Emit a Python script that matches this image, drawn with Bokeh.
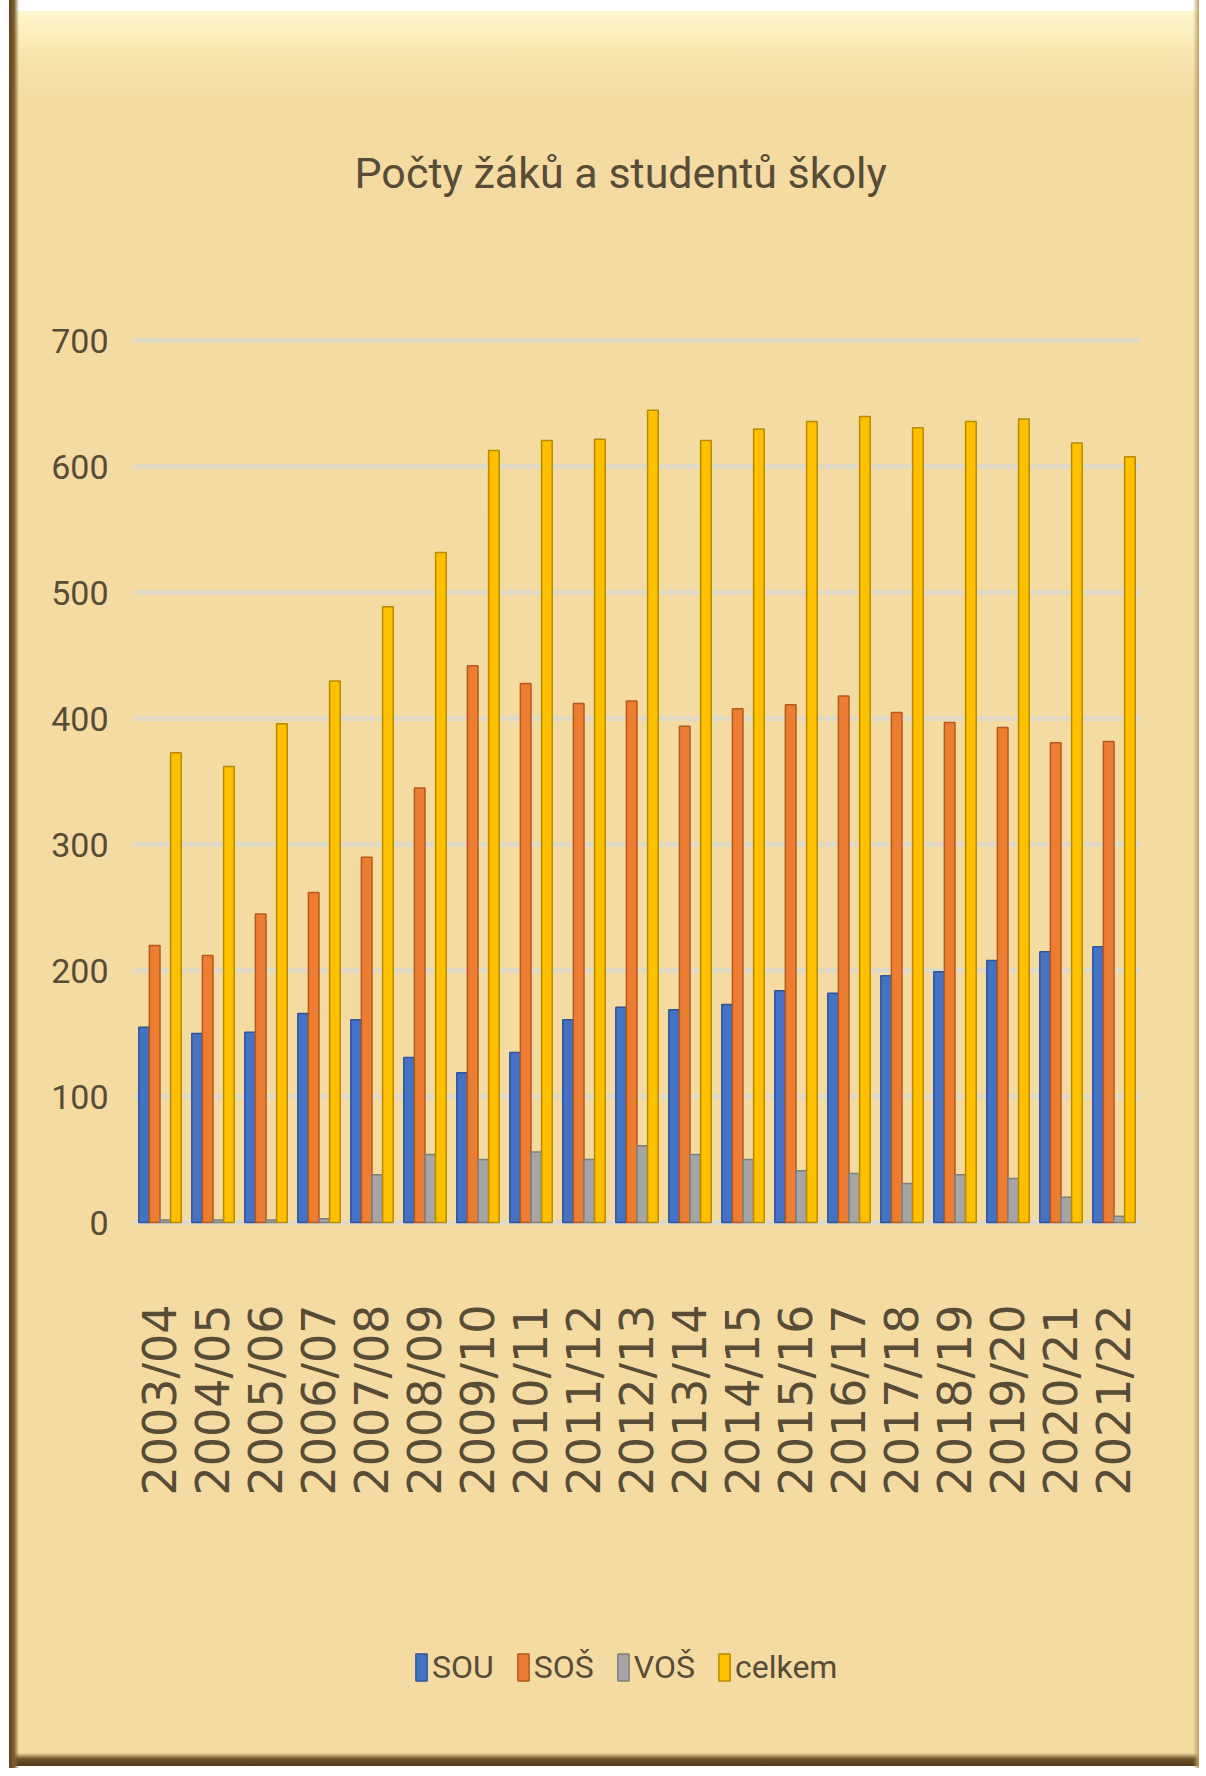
from bokeh.plotting import figure
from bokeh.models import (ColumnDataSource, Range1d, FixedTicker, Legend, LegendItem, Title)
from bokeh.core.properties import value
from bokeh.transform import dodge
from bokeh.embed import file_html
from bokeh.resources import INLINE
from math import pi

# ---- data ----
categories = ["2003/04", "2004/05", "2005/06", "2006/07", "2007/08", "2008/09",
              "2009/10", "2010/11", "2011/12", "2012/13", "2013/14", "2014/15",
              "2015/16", "2016/17", "2017/18", "2018/19", "2019/20", "2020/21",
              "2021/22"]
sou = [155, 150, 151, 166, 161, 131, 119, 135, 161, 171, 169, 173, 184, 182, 196, 199, 208, 215, 219]
sos = [220, 212, 245, 262, 290, 345, 442, 428, 412, 414, 394, 408, 411, 418, 405, 397, 393, 381, 382]
vos = [2, 2, 2, 3, 38, 54, 50, 56, 50, 61, 54, 50, 41, 39, 31, 38, 35, 20, 5]
celkem = [373, 362, 396, 430, 489, 532, 613, 621, 622, 645, 621, 630, 636, 640, 631, 636, 638, 619, 608]
series_names = ["SOU", "SOŠ", "VOŠ", "celkem"]
y_ticks = [0, 100, 200, 300, 400, 500, 600, 700]

source = ColumnDataSource(dict(cat=categories, sou=sou, sos=sos, vos=vos, celkem=celkem))

TEXT = "#574c36"
FONT = "Roboto"

# layout (pixels)
FRAME_TOP, ZERO_Y, FRAME_BOTTOM = 336, 1222, 1752
PX_PER_UNIT = (ZERO_Y - 340.4) / 700.0
y_top = (ZERO_Y - FRAME_TOP) / PX_PER_UNIT
y_bottom = -(FRAME_BOTTOM - ZERO_Y) / PX_PER_UNIT
label_anchor = -(1304 - ZERO_Y) / PX_PER_UNIT

p = figure(x_range=categories, y_range=Range1d(y_bottom, y_top),
           frame_width=1007, frame_height=FRAME_BOTTOM - FRAME_TOP,
           output_backend="svg", toolbar_location=None,
           min_border_left=133, min_border_right=60, min_border_top=FRAME_TOP,
           min_border_bottom=1768 - FRAME_BOTTOM)
p.styles = {
    "background": ", ".join([
        "linear-gradient(90deg, #ffffff 0px, #ffffff 9px, #5e421b 9px, #7d5d2c 14px, rgba(243,219,162,0) 19px)",
        "linear-gradient(270deg, #ffffff 0px, #ffffff 1px, #bfa062 1px, rgba(243,219,162,0) 7px)",
        "linear-gradient(0deg, #ffffff 0px, #ffffff 2px, #4f3a1a 2px, #6d5026 9px, rgba(243,219,162,0) 15px)",
        "linear-gradient(180deg, #ffffff 0px, #ffffff 11px, #fff7cf 11px, #f8e5ae 55px, #f3dba2 100px)",
    ])
}
p.background_fill_alpha = 0
p.border_fill_alpha = 0
p.outline_line_color = None

p.title = Title(text="Počty žáků a studentů školy", align="left", offset=221,
                text_font=FONT, text_font_size="43px", text_font_style="normal",
                text_color=TEXT, standoff=277)

cols = [("sou", "#4472c4", "#2f5597"), ("sos", "#ed7d31", "#b55a1c"),
        ("vos", "#a5a5a5", "#7f7f7f"), ("celkem", "#ffc000", "#b88a00")]
offsets = [-0.3, -0.1, 0.1, 0.3]
renderers = []
for (field, fc, lc), off in zip(cols, offsets):
    r = p.vbar(x=dodge("cat", off, range=p.x_range), top=field, bottom=0, width=0.2,
               source=source, fill_color=fc, line_color=lc, line_width=1.5)
    renderers.append(r)

# category labels (rotated, reading bottom-to-top)
p.text(x="cat", y=label_anchor, text="cat", source=source, angle=pi / 2,
       text_align="right", text_baseline="middle",
       text_font=value("DejaVu Sans"), text_font_size="46px", text_color=TEXT)

# axes
p.xaxis.visible = False
p.yaxis.ticker = FixedTicker(ticks=y_ticks)
p.yaxis.axis_line_color = None
p.yaxis.major_tick_line_color = None
p.yaxis.minor_tick_line_color = None
p.yaxis.major_label_text_font = FONT
p.yaxis.major_label_text_font_size = "34px"
p.yaxis.major_label_text_color = TEXT
p.yaxis.major_label_standoff = 19

p.xgrid.grid_line_color = None
p.ygrid.grid_line_color = "#dcd8cd"
p.ygrid.grid_line_width = 5
p.ygrid.grid_line_alpha = 0.85

legend = Legend(items=[LegendItem(label=n, renderers=[r]) for n, r in zip(series_names, renderers)],
                orientation="horizontal", location=(271, 56),
                label_text_font=FONT, label_text_font_size="32px",
                label_text_color=TEXT, glyph_width=14, glyph_height=34,
                label_standoff=4, spacing=22, background_fill_alpha=0,
                border_line_alpha=0, padding=10, margin=0)
p.add_layout(legend, "center")

open("out.html", "w").write(file_html(p, INLINE))
